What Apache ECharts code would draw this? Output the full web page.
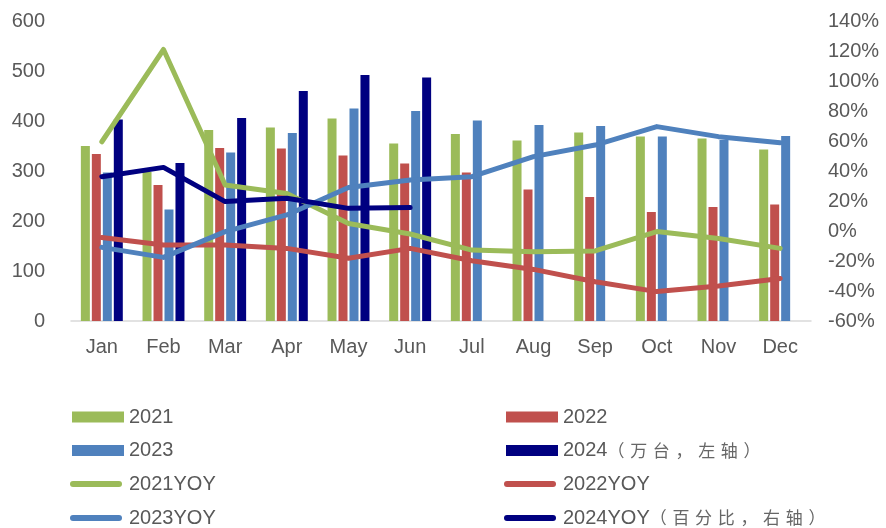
<!DOCTYPE html>
<html>
<head>
<meta charset="utf-8">
<script src="https://cdn.jsdelivr.net/npm/echarts@6/dist/echarts.min.js"></script>
<style>
html,body{margin:0;padding:0;background:#fff;}
#main{width:886px;height:528px;}
</style>
</head>
<body>
<div id="main"></div>
<script>
var months = ['Jan','Feb','Mar','Apr','May','Jun','Jul','Aug','Sep','Oct','Nov','Dec'];
var sales2021 = [350, 298, 382, 387, 405, 355, 374, 361, 377, 369, 365, 343];
var sales2022 = [334, 272, 346, 345, 331, 315, 297, 263, 248, 218, 228, 233];
var sales2023 = [297, 223, 337, 376, 425, 420, 401, 392, 390, 369, 362, 370];
var sales2024 = [403, 316, 406, 460, 492, 487, null, null, null, null, null, null];
var yoy2021 = [59.5, 121, 30.7, 25, 5, -2, -12.7, -13.8, -13.3, -0.4, -5, -11.6];
var yoy2022 = [-4.4, -9.3, -9.3, -11.6, -18.2, -11.6, -19.8, -25.6, -33.8, -40.4, -36.7, -31.6];
var yoy2023 = [-10.9, -17.6, -0.4, 10.7, 29, 34, 36.2, 49.6, 57.3, 69.6, 62.9, 58.9];
var yoy2024 = [36.2, 42.4, 19.6, 21.8, 15.1, 15.6, null, null, null, null, null, null];

var names = ['2021', '2022', '2023', '2024（万台，左轴）',
             '2021YOY', '2022YOY', '2023YOY', '2024YOY（百分比，右轴）'];
var colors = ['#9BBB59', '#C0504D', '#4F81BD', '#000080'];

var font = "'Liberation Sans', Arial, 'Noto Sans CJK SC', sans-serif";
var cjkFont = "'Noto Sans CJK SC', sans-serif";
var txtColor = '#595959';

var series = [];
[sales2021, sales2022, sales2023, sales2024].forEach(function (d, i) {
  series.push({
    name: names[i], type: 'bar', data: d, yAxisIndex: 0,
    barWidth: 9, barGap: '22%',
    itemStyle: { color: colors[i] }, z: 2
  });
});
[yoy2021, yoy2022, yoy2023, yoy2024].forEach(function (d, i) {
  series.push({
    name: names[4 + i], type: 'line', data: d, yAxisIndex: 1,
    symbol: 'none', showSymbol: false, connectNulls: false,
    lineStyle: { color: colors[i], width: 5, cap: 'round', join: 'round' },
    itemStyle: { color: colors[i] }, z: 5 + i
  });
});

// split a legend name into latin part and spaced CJK part (rich text)
function legendFormatter(name) {
  var idx = name.indexOf('（');
  if (idx < 0) return name;
  var head = name.slice(0, idx);
  var tail = name.slice(idx).split('').join('\u2004');
  return head + '{c|' + tail + '}';
}

var legPos = [
  [72, 417], [506, 417],
  [72, 450.5], [506, 450.5],
  [72, 484], [506, 484],
  [72, 518], [506, 518]
];
var lineIcon = 'path://M3,0 L49,0 A3,3 0 0 1 49,6 L3,6 A3,3 0 0 1 3,0 Z';
var legends = [0, 1, 2, 3, 4, 5, 6, 7].map(function (si, k) {
  var isBar = si < 4;
  return {
    left: isBar ? legPos[k][0] : legPos[k][0] - 2,
    top: legPos[k][1] - 12,
    orient: 'horizontal', padding: 0,
    itemWidth: isBar ? 52 : 56, itemHeight: isBar ? 11 : 6, itemGap: 0,
    selectedMode: false,
    icon: isBar ? 'rect' : lineIcon,
    data: [{ name: names[si] }],
    formatter: legendFormatter,
    textStyle: {
      color: txtColor, fontSize: 20, fontFamily: font, lineHeight: 24,
      rich: { c: { fontFamily: cjkFont, fontSize: 17, color: '#666666', lineHeight: 24 } }
    }
  };
});

var chart = echarts.init(document.getElementById('main'), null, { renderer: 'canvas' });
chart.setOption({
  backgroundColor: '#ffffff',
  animation: false,
  grid: { left: 71, right: 75, top: 21, bottom: 207, containLabel: false },
  legend: legends,
  xAxis: {
    type: 'category', data: months, boundaryGap: true,
    axisLine: { show: true, lineStyle: { color: '#d9d9d9', width: 1.5 } },
    axisTick: { show: false },
    axisLabel: { color: txtColor, fontSize: 20, fontFamily: font, margin: 16 },
    splitLine: { show: false }
  },
  yAxis: [
    {
      type: 'value', min: 0, max: 600, interval: 100, position: 'left',
      axisLine: { show: false }, axisTick: { show: false }, splitLine: { show: false },
      axisLabel: { color: txtColor, fontSize: 20, fontFamily: font, margin: 26 }
    },
    {
      type: 'value', min: -60, max: 140, interval: 20, position: 'right',
      axisLine: { show: false }, axisTick: { show: false }, splitLine: { show: false },
      axisLabel: { color: txtColor, fontSize: 20, fontFamily: font, margin: 17,
                   formatter: '{value}%' }
    }
  ],
  series: series
});
</script>
</body>
</html>
